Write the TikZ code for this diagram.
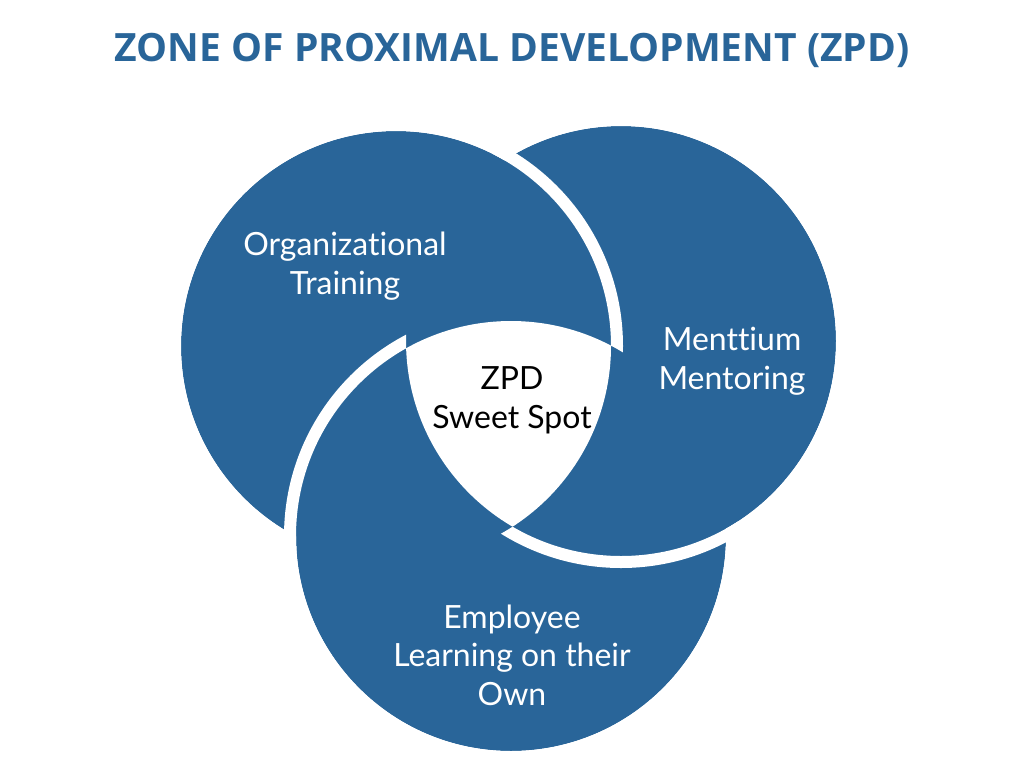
\documentclass[tikz,border=0pt]{standalone}
\usepackage{fontspec}
\setmainfont{Lato}[Ligatures={NoCommon,NoRare}]
\newfontfamily\titlefont{Open Sans}
\usepackage{tikz}
\usepackage{xcolor}
\usetikzlibrary{positioning}
\definecolor{zpdblue}{RGB}{41,101,153}

\begin{document}
\begin{tikzpicture}[x=0.02cm, y=-0.02cm,
    gap/.style={draw=white, line width=0.24cm},
    lbl/.style={text=white, align=center, font=\fontsize{18.2}{22}\selectfont}]
      \useasboundingbox (0,0) rectangle (1024,768);
      \fill[white] (0,0) rectangle (1024,768);
      \coordinate (org) at (396,346);
      \coordinate (men) at (621,341);
      \coordinate (emp) at (511,536);
      \fill[zpdblue] (org) circle[radius=215] (men) circle[radius=215] (emp) circle[radius=215];
      \begin{scope}[even odd rule]
        \clip (-50,-50) rectangle (1100,850) (emp) circle[radius=215];
        \draw[gap] (org) circle[radius=221];
      \end{scope}
      \begin{scope}[even odd rule]
        \clip (-50,-50) rectangle (1100,850) (org) circle[radius=215];
        \draw[gap] (men) circle[radius=221];
      \end{scope}
      \begin{scope}[even odd rule]
        \clip (-50,-50) rectangle (1100,850) (men) circle[radius=215];
        \draw[gap] (emp) circle[radius=221];
      \end{scope}
      \begin{scope}
        \clip (org) circle[radius=215];
        \clip (men) circle[radius=215];
        \fill[white] (emp) circle[radius=215];
      \end{scope}
      \node[text=zpdblue, font=\titlefont\bfseries\fontsize{22.2}{26}\selectfont] (title) at (512,50) {ZONE OF PROXIMAL DEVELOPMENT (ZPD)};
      \node[lbl] (orgtxt) at (345,266) {Organizational\\Training};
      \node[lbl] (mentxt) at (732,361) {Menttium\\Mentoring};
      \node[lbl, text=black] (zpdtxt) at (512,400) {ZPD\\Sweet Spot};
      \node[lbl] (emptxt) at (512,655) {Employee\\Learning on their\\Own};
    \end{tikzpicture}
\end{document}
